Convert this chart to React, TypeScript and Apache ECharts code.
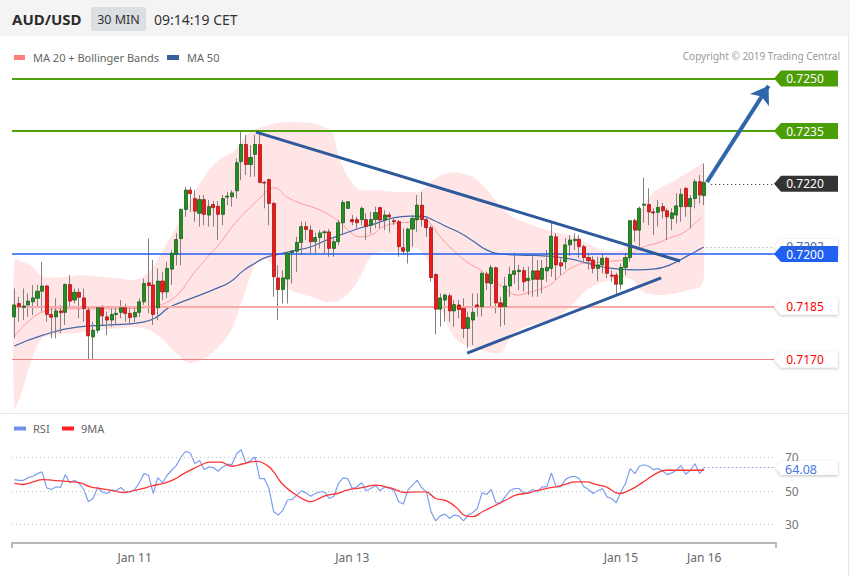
import React, { useEffect, useRef } from 'react';
import * as echarts from 'echarts';

// ---------- data ----------
const opens = [
  0.71821,0.71859,0.71848,0.71855,0.71864,0.71874,0.71894,0.71909,0.71828,0.71821,
  0.71838,0.71834,0.71913,0.71869,0.71891,0.71875,0.71840,0.71764,0.71783,0.71847,
  0.71821,0.71812,0.71828,0.71834,0.71847,0.71831,0.71821,0.71834,0.71864,0.71918,
  0.71912,0.71847,0.71923,0.71892,0.71957,0.71999,0.72044,0.72127,0.72182,0.72158,
  0.72116,0.72155,0.72111,0.72141,0.72136,0.72113,0.72162,0.72163,0.72180,0.72263,
  0.72312,0.72255,0.72284,0.72312,0.72204,0.72212,0.72144,0.71932,0.71899,0.71929,
  0.72004,0.72008,0.72033,0.72078,0.72068,0.72035,0.72047,0.72061,0.72063,0.72016,
  0.72035,0.72089,0.72130,0.72098,0.72098,0.72098,0.72098,0.72082,0.72098,0.72132,
  0.72097,0.72111,0.72095,0.72092,0.72018,0.72008,0.72071,0.72098,0.72139,0.72098,
  0.72075,0.71942,0.71843,0.71869,0.71881,0.71838,0.71855,0.71845,0.71788,0.71812,
  0.71855,0.71850,0.71943,0.71916,0.71961,0.71861,0.71850,0.71909,0.71942,0.71950,
  0.71953,0.71924,0.71928,0.71952,0.71928,0.71952,0.71959,0.72049,0.71975,0.71978,
  0.72026,0.72038,0.72042,0.72021,0.71990,0.71983,0.71959,0.71969,0.71988,0.71940,
  0.71940,0.71914,0.71962,0.71990,0.72095,0.72068,0.72139,0.72141,0.72120,0.72119,
  0.72135,0.72123,0.72101,0.72111,0.72135,0.72187,0.72135,0.72158,0.72206,0.72166,
];
const closes = [
  0.71855,0.71850,0.71852,0.71866,0.71875,0.71894,0.71909,0.71828,0.71820,0.71838,
  0.71833,0.71913,0.71866,0.71891,0.71877,0.71845,0.71767,0.71783,0.71847,0.71824,
  0.71812,0.71828,0.71831,0.71847,0.71831,0.71819,0.71834,0.71864,0.71916,0.71910,
  0.71828,0.71923,0.71892,0.71959,0.72002,0.72041,0.72127,0.72182,0.72172,0.72122,
  0.72155,0.72113,0.72135,0.72132,0.72113,0.72158,0.72165,0.72174,0.72260,0.72312,
  0.72255,0.72275,0.72312,0.72204,0.72202,0.72144,0.71935,0.71899,0.71932,0.72002,
  0.72008,0.72033,0.72078,0.72070,0.72035,0.72047,0.72060,0.72063,0.72016,0.72035,
  0.72089,0.72147,0.72149,0.72092,0.72089,0.72130,0.72079,0.72098,0.72118,0.72097,
  0.72111,0.72106,0.72092,0.72021,0.72008,0.72071,0.72101,0.72139,0.72098,0.72075,
  0.71933,0.71843,0.71875,0.71883,0.71838,0.71856,0.71842,0.71788,0.71819,0.71834,
  0.71850,0.71945,0.71918,0.71961,0.71861,0.71850,0.71909,0.71942,0.71952,0.71954,
  0.71921,0.71931,0.71952,0.71928,0.71959,0.71962,0.72051,0.71969,0.71966,0.72026,
  0.72040,0.72042,0.72021,0.71990,0.71981,0.71959,0.71969,0.71988,0.71945,0.71937,
  0.71914,0.71962,0.71990,0.72095,0.72068,0.72130,0.72142,0.72120,0.72117,0.72133,
  0.72123,0.72106,0.72117,0.72137,0.72170,0.72135,0.72158,0.72206,0.72168,0.72204,
];
const lows = [
  0.71760,0.71807,0.71812,0.71821,0.71826,0.71850,0.71836,0.71807,0.71760,0.71760,
  0.71774,0.71798,0.71850,0.71859,0.71817,0.71807,0.71698,0.71698,0.71774,0.71798,
  0.71769,0.71793,0.71798,0.71817,0.71807,0.71798,0.71807,0.71821,0.71855,0.71831,
  0.71798,0.71812,0.71869,0.71874,0.71912,0.71968,0.71968,0.72106,0.72120,0.72092,
  0.72078,0.72082,0.72078,0.72078,0.72040,0.72082,0.72139,0.72135,0.72158,0.72210,
  0.72225,0.72220,0.72220,0.72201,0.72130,0.72082,0.71878,0.71812,0.71859,0.71859,
  0.71916,0.71949,0.71997,0.72040,0.72002,0.72002,0.72016,0.72002,0.71992,0.71992,
  0.72025,0.72054,0.72128,0.72082,0.72073,0.72082,0.72040,0.72059,0.72073,0.72073,
  0.72068,0.72061,0.72082,0.71992,0.71997,0.71973,0.72021,0.72063,0.72078,0.72049,
  0.71921,0.71771,0.71793,0.71807,0.71807,0.71793,0.71817,0.71760,0.71733,0.71741,
  0.71822,0.71822,0.71897,0.71850,0.71831,0.71793,0.71798,0.71878,0.71916,0.71897,
  0.71893,0.71883,0.71878,0.71878,0.71888,0.71921,0.71935,0.71926,0.71940,0.71956,
  0.71994,0.72011,0.71988,0.71978,0.71956,0.71945,0.71923,0.71945,0.71931,0.71921,
  0.71883,0.71899,0.71940,0.71978,0.72035,0.72021,0.72089,0.72082,0.72054,0.72078,
  0.72101,0.72040,0.72068,0.72087,0.72092,0.72106,0.72073,0.72130,0.72144,0.72139,
];
const highs = [
  0.71902,0.71878,0.71902,0.71888,0.71912,0.71912,0.71978,0.71912,0.71850,0.71874,
  0.71855,0.71916,0.71940,0.71902,0.71902,0.71902,0.71850,0.71807,0.71850,0.71855,
  0.71836,0.71845,0.71850,0.71869,0.71859,0.71845,0.71850,0.71874,0.71930,0.72044,
  0.71983,0.71959,0.71949,0.71978,0.72011,0.72059,0.72130,0.72191,0.72191,0.72182,
  0.72168,0.72168,0.72154,0.72151,0.72151,0.72168,0.72177,0.72182,0.72272,0.72348,
  0.72339,0.72310,0.72339,0.72343,0.72208,0.72215,0.72149,0.71968,0.71954,0.72006,
  0.72011,0.72049,0.72092,0.72092,0.72082,0.72061,0.72068,0.72068,0.72071,0.72044,
  0.72097,0.72154,0.72151,0.72111,0.72106,0.72135,0.72116,0.72120,0.72135,0.72135,
  0.72125,0.72118,0.72101,0.72097,0.72073,0.72075,0.72111,0.72168,0.72177,0.72103,
  0.72082,0.71945,0.71888,0.71888,0.71888,0.71869,0.71869,0.71874,0.71836,0.71888,
  0.71888,0.71950,0.71950,0.71969,0.71964,0.71878,0.71935,0.71964,0.72004,0.71969,
  0.71964,0.71964,0.71994,0.71983,0.71983,0.72011,0.72095,0.72059,0.71988,0.72045,
  0.72054,0.72059,0.72054,0.72026,0.72002,0.71994,0.71992,0.72002,0.71992,0.71954,
  0.71947,0.71973,0.72002,0.72097,0.72101,0.72135,0.72218,0.72187,0.72130,0.72154,
  0.72146,0.72130,0.72130,0.72173,0.72187,0.72190,0.72168,0.72213,0.72225,0.72258,
];

// Bollinger bands and moving averages, sampled as [candle index, price]
const upperBand = [
  [0,0.71983],[1.9,0.71977],[4,0.71963],[6.2,0.71935],[11.4,0.71935],[14.8,0.71940],
  [18.5,0.71935],[22.2,0.71932],[25.6,0.71926],[27.8,0.71935],[30,0.71963],[32.1,0.72011],
  [34.3,0.72060],[36.4,0.72111],[38.6,0.72168],[40.8,0.72216],[42.9,0.72253],[45.1,0.72276],
  [47.2,0.72290],[49.4,0.72325],[51.5,0.72353],[54.1,0.72364],[56.7,0.72373],[60.2,0.72376],
  [63.9,0.72373],[66,0.72367],[68.6,0.72345],[70.3,0.72268],[72.5,0.72211],[74.7,0.72182],
  [78.3,0.72182],[81.8,0.72177],[85.5,0.72177],[87.6,0.72177],[90.4,0.72211],[93.5,0.72231],
  [96.3,0.72231],[99.1,0.72219],[102.1,0.72182],[105.1,0.72134],[107.7,0.72105],[110.7,0.72088],
  [113.5,0.72074],[116.8,0.72063],[120,0.72054],[123.7,0.72031],[127.1,0.72011],[130.8,0.72011],
  [133.6,0.72048],[135.1,0.72117],[137.9,0.72174],[141.6,0.72202],[145.3,0.72231],[148.1,0.72253],
  [148.9,0.72259],
];
const lowerBand = [
  [0,0.71562],[1.2,0.71590],[3.4,0.71684],[6.2,0.71761],[13.5,0.71775],[22.8,0.71789],
  [27.8,0.71789],[31.5,0.71764],[34.7,0.71721],[37.9,0.71690],[42.3,0.71713],[46.6,0.71778],
  [49.4,0.71875],[51.5,0.71955],[53.5,0.71989],[55.7,0.71969],[57.8,0.71917],[60,0.71895],
  [62.1,0.71886],[65,0.71875],[67.5,0.71863],[70.3,0.71869],[72.5,0.71892],[74.7,0.71935],
  [76.8,0.71989],[79,0.72006],[81.8,0.72006],[84.8,0.72011],[87,0.72017],[89.1,0.71983],
  [90.4,0.71926],[92,0.71855],[94.1,0.71784],[96.3,0.71747],[99.1,0.71733],[102.1,0.71721],
  [105.1,0.71718],[106.6,0.71750],[108.1,0.71775],[110.3,0.71792],[113.5,0.71804],[116.3,0.71812],
  [120,0.71849],[123.7,0.71898],[127.1,0.71920],[130.8,0.71932],[133.6,0.71926],[135.8,0.71892],
  [139.5,0.71883],[143.1,0.71889],[145.9,0.71898],[148.1,0.71906],[148.9,0.71932],
];
const ma20 = [
  [0,0.71764],[2.7,0.71804],[6.2,0.71835],[9.9,0.71844],[14.2,0.71844],[20.7,0.71844],
  [27.1,0.71846],[30.4,0.71852],[33,0.71863],[35.8,0.71892],[38.6,0.71943],[41.6,0.71989],
  [44.4,0.72031],[47.2,0.72080],[50.3,0.72125],[53.1,0.72160],[54.8,0.72182],[56.1,0.72188],
  [58.9,0.72162],[61.7,0.72145],[66,0.72125],[70.3,0.72091],[72.5,0.72063],[74.7,0.72049],
  [77.5,0.72057],[79.6,0.72077],[82.6,0.72088],[85.5,0.72091],[88.3,0.72100],[89.8,0.72088],
  [92,0.72049],[94.8,0.72011],[97.8,0.71977],[100.6,0.71955],[103.4,0.71926],[106.4,0.71898],
  [108.6,0.71883],[110.7,0.71889],[113.5,0.71900],[115.7,0.71912],[117.9,0.71937],[120.7,0.71963],
  [123.7,0.71975],[126.5,0.71977],[129.3,0.71980],[131.5,0.71983],[133.6,0.72003],[135.8,0.72020],
  [138.8,0.72031],[141.6,0.72046],[144.4,0.72060],[146.6,0.72083],[148.5,0.72105],
];
const ma50 = [
  [0,0.71738],[6.2,0.71769],[13.5,0.71792],[20.7,0.71798],[27.8,0.71806],[30.8,0.71821],
  [33,0.71844],[35.1,0.71858],[39.5,0.71880],[43.8,0.71903],[46.6,0.71920],[49.4,0.71952],
  [52,0.71974],[54.1,0.71989],[56.3,0.71997],[60.2,0.72009],[63.9,0.72020],[67.5,0.72040],
  [71,0.72057],[74.7,0.72074],[78.3,0.72088],[81.8,0.72103],[85.5,0.72108],[88.3,0.72107],
  [90.4,0.72097],[93.5,0.72077],[96.3,0.72060],[99.1,0.72037],[102.1,0.72011],[105.1,0.72000],
  [109.2,0.71997],[115.1,0.71994],[120,0.71986],[123.7,0.71974],[127.1,0.71963],[130.8,0.71957],
  [134.5,0.71955],[138,0.71957],[141.6,0.71969],[145.3,0.71994],[148.1,0.72014],[148.9,0.72020],
];

// trend lines and target arrow [candle index, price]
const trendUpper = [[52.2, 0.72347], [143.8, 0.71980]];
const trendLower = [[97.8, 0.71718], [139.7, 0.71932]];
const targetArrow = [[149.6, 0.72205], [162.9, 0.72479]];

// horizontal levels
const resistanceLevels = [0.7250, 0.7235];
const supportLevels = [0.7185, 0.7170];
const pivotLevel = 0.7200;
const lastPrice = 0.7220;
const lastMa50 = 0.7202;

// RSI panel
const rsi = [
  56.9,56.5,56.5,58.1,58.9,60.5,61.5,52.0,51.0,52.6,52.2,59.9,55.0,56.5,54.6,51.0,43.7,45.6,52.0,49.6,
  48.6,50.6,50.2,52.2,49.6,49.6,51.0,55.0,60.5,59.5,48.6,58.1,55.0,59.5,62.5,65.4,70.4,73.8,72.8,66.4,
  68.4,62.9,64.5,64.1,61.9,64.5,66.0,66.0,72.4,74.8,66.8,68.4,70.4,57.5,57.5,51.6,37.7,35.7,38.7,44.7,
  45.1,47.6,50.2,49.0,47.0,48.6,49.6,49.6,45.6,47.0,54.6,57.9,57.5,51.6,52.6,55.0,50.2,51.6,53.6,50.2,
  52.6,51.6,50.6,43.7,42.3,50.6,53.6,56.5,52.0,49.6,37.7,32.2,35.2,36.3,33.8,35.7,35.2,32.2,35.7,37.1,
  39.7,49.0,48.0,51.0,43.1,42.7,46.6,50.2,51.6,51.6,49.0,49.0,51.0,49.6,52.6,52.6,60.9,52.6,52.6,56.9,
  58.5,58.9,57.5,52.6,51.0,48.6,50.2,51.6,46.6,45.6,43.1,49.6,54.6,63.5,60.5,64.9,65.8,64.9,62.9,63.5,
  62.1,59.9,60.9,62.5,65.4,60.1,62.5,66.4,60.5,64.08,
];
const rsiMa9 = [
  [0,54.6],[1.9,54.0],[3,54.6],[4.1,55.5],[6.1,56.9],[8.4,56.5],[12,55.7],[14.2,55.0],[16.4,52.6],
  [18.5,51.6],[20.7,50.6],[23.6,49.2],[25.7,50.2],[27.9,51.6],[29.7,53.2],[32.2,54.6],[34.4,56.9],
  [36.6,60.5],[38.7,63.5],[40.9,66.4],[42.3,67.4],[44.5,67.4],[47,64.9],[49.5,66.4],[52.4,67.8],
  [54.6,65.4],[56,61.5],[57.8,54.6],[60.4,48.6],[62.5,45.1],[63.9,43.7],[65.8,45.6],[67.6,47.6],
  [69.7,48.6],[71.9,50.6],[74.8,52.0],[75.9,52.6],[78,53.6],[80.2,52.6],[81.6,51.6],[84.5,49.2],
  [86.7,49.6],[88.8,49.6],[91,45.6],[93.2,44.3],[95.3,40.7],[97.5,35.2],[99,34.8],[101.1,37.7],
  [104,41.7],[106.2,44.7],[108.3,47.6],[111.2,49.0],[113.3,50.6],[116.2,52.2],[118.4,53.6],
  [121.3,55.5],[123.5,55.5],[125.6,54.0],[127.8,52.6],[130.6,48.6],[132.1,49.6],[134.2,52.6],
  [136.4,56.5],[138.6,60.5],[140.7,62.5],[143.6,62.5],[145.8,62.5],[149,62.5],
];
const rsiLevels = [70, 50, 30];
const lastRsi = 64.08;

const dateTickIndex = [26, 73, 131, 149];
const dateTickLabel = ['Jan 11', 'Jan 13', 'Jan 15', 'Jan 16'];

const SLOTS = 165;
const FONT = "'Noto Sans', 'Open Sans', sans-serif";

export default function App() {
  const ref = useRef<HTMLDivElement>(null);

  useEffect(() => {
    if (!ref.current) return;
    const chart = echarts.init(ref.current, null, { renderer: 'svg' });
    const cats = Array.from({ length: SLOTS }, (_, i) => String(i));
    const candleFull = opens.map((o, i) => [o, closes[i], lows[i], highs[i]]);
    const candleBody = opens.map((o, i) => [o, closes[i], Math.min(o, closes[i]), Math.max(o, closes[i])]);
    const xEnd = SLOTS - 0.5;
    const lastIdx = opens.length - 1;

    const option: any = {
      animation: false,
      backgroundColor: '#ffffff',
      textStyle: { fontFamily: FONT },
      grid: [
        { left: 12, right: 74, top: 70, height: 341 },
        { left: 12, right: 74, top: 441, height: 102 },
      ],
      xAxis: [
        { type: 'category', gridIndex: 0, data: cats, boundaryGap: true, show: false },
        { type: 'value', gridIndex: 0, min: -0.5, max: xEnd, show: false },
        {
          type: 'category', gridIndex: 1, data: cats, boundaryGap: true,
          axisLine: { show: true, lineStyle: { color: '#b8b8b8', width: 2 } },
          axisTick: { show: true, interval: (i: number) => i === 0, length: 5, lineStyle: { color: '#b8b8b8', width: 2 } },
          axisLabel: {
            show: true,
            interval: (i: number) => dateTickIndex.includes(i),
            formatter: (v: string) => {
              const k = dateTickIndex.indexOf(Number(v));
              return k >= 0 ? dateTickLabel[k] : '';
            },
            color: '#666', fontSize: 12, margin: 8, fontFamily: FONT,
          },
          splitLine: { show: false },
        },
        { type: 'value', gridIndex: 1, min: -0.5, max: xEnd, show: false },
      ],
      yAxis: [
        { type: 'value', gridIndex: 0, min: 0.71553, max: 0.72524, show: false },
        { type: 'value', gridIndex: 1, min: 19, max: 80, show: false },
      ],
      series: [
        {
          type: 'custom', name: 'bands', xAxisIndex: 1, yAxisIndex: 0, silent: true, z: 1,
          data: [[0, upperBand[0][1]]],
          renderItem: (params: any, api: any) => {
            if (params.dataIndex !== 0) return null;
            const pts: number[][] = [];
            upperBand.forEach((p) => pts.push(api.coord(p)));
            for (let k = lowerBand.length - 1; k >= 0; k--) pts.push(api.coord(lowerBand[k]));
            return {
              type: 'polygon',
              shape: { points: pts, smooth: 0.3 },
              style: { fill: 'rgba(255,40,40,0.12)' },
            };
          },
        },
        {
          type: 'line', name: 'MA 20', xAxisIndex: 1, yAxisIndex: 0, data: ma20, smooth: true,
          showSymbol: false, z: 3, silent: true,
          lineStyle: { color: '#ff9a9a', width: 1 },
          markLine: {
            silent: true, symbol: 'none', label: { show: false }, precision: 5,
            data: [
              { yAxis: resistanceLevels[0], lineStyle: { color: '#4fa10a', width: 2, type: 'solid' } },
              { yAxis: resistanceLevels[1], lineStyle: { color: '#4fa10a', width: 2, type: 'solid' } },
              { yAxis: pivotLevel, lineStyle: { color: '#1f5ff2', width: 1.5, type: 'solid' } },
              { yAxis: supportLevels[0], lineStyle: { color: '#f9aaaa', width: 2, type: 'solid' } },
              { yAxis: supportLevels[1], lineStyle: { color: '#f28080', width: 1, type: 'solid' } },
            ],
          },
        },
        {
          type: 'line', name: 'MA 50', xAxisIndex: 1, yAxisIndex: 0, data: ma50, smooth: true,
          showSymbol: false, z: 3, silent: true,
          lineStyle: { color: '#4268aa', width: 1.2 },
          markLine: {
            silent: true, symbol: 'none', label: { show: false }, precision: 5,
            data: [
              [
                { coord: [lastIdx + 0.5, lastMa50], lineStyle: { color: '#8c9cbc', width: 1, type: [1, 3] } },
                { coord: [xEnd, lastMa50] },
              ],
              [
                { coord: [lastIdx + 1.5, lastPrice], lineStyle: { color: '#222222', width: 1, type: [1, 3] } },
                { coord: [xEnd, lastPrice] },
              ],
            ],
          },
        },
        {
          type: 'candlestick', name: 'wicks', xAxisIndex: 0, yAxisIndex: 0, z: 4, silent: true,
          data: candleFull, barWidth: 1,
          itemStyle: { color: '#858080', color0: '#858080', borderColor: '#858080', borderColor0: '#858080', borderWidth: 1 },
        },
        {
          type: 'candlestick', name: 'bodies', xAxisIndex: 0, yAxisIndex: 0, z: 5, silent: true,
          data: candleBody, barWidth: 3.6,
          itemStyle: { color: '#22901f', color0: '#ee1a1a', borderColor: '#17601a', borderColor0: '#a81515', borderWidth: 0.8 },
        },
        {
          type: 'line', name: 'trend upper', xAxisIndex: 1, yAxisIndex: 0, data: trendUpper,
          showSymbol: false, z: 6, silent: true,
          lineStyle: { color: '#2e5a9c', width: 3 },
          markLine: {
            silent: true, symbol: ['none', 'arrow'], symbolSize: 17, label: { show: false }, precision: 5,
            lineStyle: { color: '#2f65ab', width: 4, type: 'solid' },
            data: [[{ coord: targetArrow[0] }, { coord: targetArrow[1] }]],
          },
        },
        {
          type: 'line', name: 'trend lower', xAxisIndex: 1, yAxisIndex: 0, data: trendLower,
          showSymbol: false, z: 6, silent: true,
          lineStyle: { color: '#2e5a9c', width: 3 },
        },
        {
          type: 'line', name: 'RSI', xAxisIndex: 3, yAxisIndex: 1,
          data: rsi.map((v, i) => [i, v]), showSymbol: false, silent: true, z: 3,
          lineStyle: { color: '#7e9ef0', width: 1.2 },
          markLine: {
            silent: true, symbol: 'none',
            lineStyle: { color: '#bdbdbd', width: 1, type: [1, 3] },
            label: { show: true, position: 'end', formatter: '{c}', color: '#777', fontSize: 12, distance: 9, fontFamily: FONT },
            data: rsiLevels.map((v) => ({ yAxis: v })),
          },
        },
        {
          type: 'line', name: '9MA', xAxisIndex: 3, yAxisIndex: 1, data: rsiMa9, smooth: true,
          showSymbol: false, silent: true, z: 4,
          lineStyle: { color: '#ff3535', width: 1.3 },
          markLine: {
            silent: true, symbol: 'none', label: { show: false }, precision: 2,
            data: [[
              { coord: [lastIdx, lastRsi], lineStyle: { color: '#5b80e6', width: 1.2, type: [1, 3] } },
              { coord: [xEnd, lastRsi] },
            ]],
          },
        },
      ],
    };
    chart.setOption(option);

    const levelBoxes = [
      { v: resistanceLevels[0], text: '0.7250', fill: '#4b9e06', color: '#ffffff', shadow: false },
      { v: resistanceLevels[1], text: '0.7235', fill: '#4b9e06', color: '#ffffff', shadow: false },
      { v: lastPrice, text: '0.7220', fill: '#333333', color: '#ffffff', shadow: false },
      { v: lastMa50, text: '0.7202', fill: '#ffffff', color: '#4a6aa8', shadow: true },
      { v: pivotLevel, text: '0.7200', fill: '#1f5ff2', color: '#ffffff', shadow: false },
      { v: supportLevels[0], text: '0.7185', fill: '#ffffff', color: '#ff0000', shadow: true },
      { v: supportLevels[1], text: '0.7170', fill: '#ffffff', color: '#ff0000', shadow: true },
    ];
    const boxEls: any[] = [];
    levelBoxes.forEach((b) => {
      const c = chart.convertToPixel({ yAxisIndex: 0 } as any, b.v) as number;
      boxEls.push({
        type: 'polygon', z: 100,
        shape: { points: [[774, c], [781, c - 8], [838, c - 8], [838, c + 8], [781, c + 8]] },
        style: { fill: b.fill, shadowBlur: b.shadow ? 3 : 0, shadowColor: 'rgba(0,0,0,0.25)', shadowOffsetY: b.shadow ? 1 : 0 },
      });
      boxEls.push({
        type: 'text', z: 101, x: 805, y: c,
        style: { text: b.text, fill: b.color, fontSize: 12, fontFamily: FONT, align: 'center', verticalAlign: 'middle' },
      });
    });
    const cr = chart.convertToPixel({ yAxisIndex: 1 } as any, lastRsi) as number;
    boxEls.push({
      type: 'polygon', z: 100,
      shape: { points: [[776, cr + 0.5], [781, cr - 6.5], [838, cr - 6.5], [838, cr + 7.5], [781, cr + 7.5]] },
      style: { fill: '#ffffff', shadowBlur: 3, shadowColor: 'rgba(0,0,0,0.25)', shadowOffsetY: 1 },
    });
    boxEls.push({
      type: 'text', z: 101, x: 801, y: cr + 1.5,
      style: { text: '64.08', fill: '#4a78e2', fontSize: 12.5, fontFamily: FONT, align: 'center', verticalAlign: 'middle' },
    });

    const staticEls: any[] = [
      { type: 'rect', z: 90, shape: { x: 0, y: 0, width: 850, height: 36 }, style: { fill: '#f4f4f4' } },
      { type: 'text', z: 91, x: 12, y: 19, style: { text: 'AUD/USD', fill: '#2b2b2b', fontSize: 15, fontWeight: 'bold', fontFamily: FONT, align: 'left', verticalAlign: 'middle' } },
      { type: 'rect', z: 91, shape: { x: 91, y: 7, width: 55, height: 24, r: 2 }, style: { fill: '#dbdee2' } },
      { type: 'text', z: 92, x: 118.5, y: 19, style: { text: '30 MIN', fill: '#333', fontSize: 12.5, fontFamily: FONT, align: 'center', verticalAlign: 'middle' } },
      { type: 'text', z: 91, x: 154, y: 19, style: { text: '09:14:19 CET', fill: '#333', fontSize: 14, fontFamily: FONT, align: 'left', verticalAlign: 'middle' } },
      // legend main
      { type: 'rect', z: 91, shape: { x: 14, y: 55, width: 11, height: 5 }, style: { fill: '#ff7f7f' } },
      { type: 'text', z: 91, x: 33, y: 57.5, style: { text: 'MA 20 + Bollinger Bands', fill: '#666', fontSize: 11, fontFamily: FONT, align: 'left', verticalAlign: 'middle' } },
      { type: 'rect', z: 91, shape: { x: 167, y: 55, width: 12, height: 5 }, style: { fill: '#3a5f9f' } },
      { type: 'text', z: 91, x: 187, y: 57.5, style: { text: 'MA 50', fill: '#666', fontSize: 11, fontFamily: FONT, align: 'left', verticalAlign: 'middle' } },
      { type: 'text', z: 91, x: 840, y: 56, style: { text: 'Copyright © 2019 Trading Central', fill: '#9a9a9a', fontSize: 10, fontFamily: FONT, align: 'right', verticalAlign: 'middle' } },
      // separators
      { type: 'line', z: 91, shape: { x1: 0, y1: 413.5, x2: 848, y2: 413.5 }, style: { stroke: '#e6e6e6', lineWidth: 1 } },
      { type: 'line', z: 91, shape: { x1: 848.5, y1: 36, x2: 848.5, y2: 576 }, style: { stroke: '#e6e6e6', lineWidth: 1 } },
      // legend RSI
      { type: 'rect', z: 91, shape: { x: 14, y: 426.5, width: 12, height: 4 }, style: { fill: '#6f90ee' } },
      { type: 'text', z: 91, x: 33, y: 428.5, style: { text: 'RSI', fill: '#666', fontSize: 11, fontFamily: FONT, align: 'left', verticalAlign: 'middle' } },
      { type: 'rect', z: 91, shape: { x: 62, y: 426.5, width: 12, height: 4 }, style: { fill: '#ff1f1f' } },
      { type: 'text', z: 91, x: 81, y: 428.5, style: { text: '9MA', fill: '#666', fontSize: 11, fontFamily: FONT, align: 'left', verticalAlign: 'middle' } },
    ];

    chart.setOption({ graphic: { elements: [...staticEls, ...boxEls] } });

    return () => chart.dispose();
  }, []);

  return (
    <div
      ref={ref}
      style={{ position: 'absolute', left: 0, top: 0, width: 850, height: 576, background: '#ffffff' }}
    />
  );
}
